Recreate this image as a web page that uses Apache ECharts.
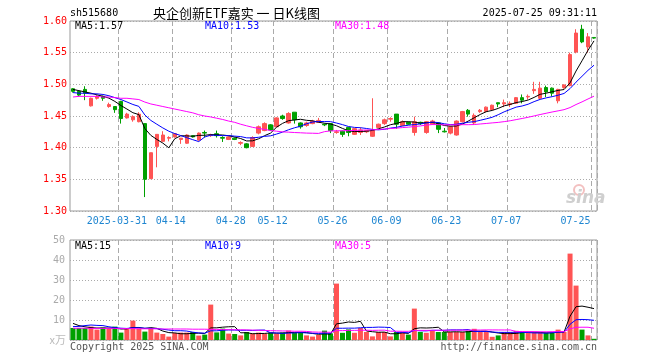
<!DOCTYPE html>
<html><head><meta charset="utf-8">
<script src="https://cdn.jsdelivr.net/npm/echarts@6/dist/echarts.min.js"></script>
<style>html,body{margin:0;padding:0;background:#fff}#c{width:660px;height:360px}</style>
</head><body><div id="c"></div>
<script>
const dates = ['2025-03-19','2025-03-20','2025-03-21','2025-03-24','2025-03-25','2025-03-26','2025-03-27','2025-03-28','2025-03-31','2025-04-01','2025-04-02','2025-04-03','2025-04-07','2025-04-08','2025-04-09','2025-04-10','2025-04-11','2025-04-14','2025-04-15','2025-04-16','2025-04-17','2025-04-18','2025-04-21','2025-04-22','2025-04-23','2025-04-24','2025-04-25','2025-04-28','2025-04-29','2025-04-30','2025-05-06','2025-05-07','2025-05-08','2025-05-09','2025-05-12','2025-05-13','2025-05-14','2025-05-15','2025-05-16','2025-05-19','2025-05-20','2025-05-21','2025-05-22','2025-05-23','2025-05-26','2025-05-27','2025-05-28','2025-05-29','2025-05-30','2025-06-03','2025-06-04','2025-06-05','2025-06-06','2025-06-09','2025-06-10','2025-06-11','2025-06-12','2025-06-13','2025-06-16','2025-06-17','2025-06-18','2025-06-19','2025-06-20','2025-06-23','2025-06-24','2025-06-25','2025-06-26','2025-06-27','2025-06-30','2025-07-01','2025-07-02','2025-07-03','2025-07-04','2025-07-07','2025-07-08','2025-07-09','2025-07-10','2025-07-11','2025-07-14','2025-07-15','2025-07-16','2025-07-17','2025-07-18','2025-07-21','2025-07-22','2025-07-23','2025-07-24','2025-07-25'];
const labelDates = ['2025-03-31','2025-04-14','2025-04-28','2025-05-12','2025-05-26','2025-06-09','2025-06-23','2025-07-07','2025-07-25'];

const open = [1.493,1.489,1.492,1.466,1.478,1.481,1.465,1.465,1.473,1.447,
1.444,1.441,1.438,1.351,1.402,1.410,1.415,1.417,1.413,1.407,
1.419,1.412,1.424,1.419,1.422,1.416,1.413,1.415,1.407,1.406,
1.402,1.423,1.427,1.436,1.433,1.450,1.439,1.456,1.439,1.435,
1.438,1.440,1.437,1.438,1.424,1.426,1.432,1.421,1.424,1.425,
1.418,1.432,1.438,1.445,1.453,1.435,1.440,1.424,1.440,1.424,
1.437,1.439,1.426,1.423,1.420,1.441,1.459,1.439,1.457,1.457,
1.460,1.471,1.469,1.468,1.470,1.479,1.480,1.490,1.478,1.495,
1.494,1.474,1.495,1.498,1.551,1.587,1.559,1.574];
const close = [1.489,1.483,1.486,1.478,1.481,1.478,1.468,1.460,1.446,1.453,
1.449,1.453,1.350,1.392,1.421,1.420,1.416,1.422,1.415,1.420,
1.417,1.423,1.423,1.420,1.419,1.415,1.417,1.413,1.408,1.400,
1.416,1.433,1.438,1.428,1.447,1.446,1.454,1.444,1.433,1.439,
1.442,1.443,1.436,1.427,1.425,1.421,1.424,1.430,1.428,1.427,
1.427,1.437,1.444,1.446,1.437,1.441,1.437,1.441,1.438,1.441,
1.442,1.429,1.425,1.433,1.442,1.457,1.453,1.451,1.459,1.464,
1.467,1.469,1.471,1.470,1.479,1.475,1.481,1.492,1.494,1.488,
1.486,1.492,1.499,1.547,1.581,1.567,1.575,1.573];
const low = [1.487,1.481,1.475,1.465,1.476,1.474,1.463,1.455,1.438,1.446,
1.441,1.440,1.322,1.351,1.369,1.410,1.410,1.416,1.406,1.406,
1.416,1.411,1.416,1.417,1.416,1.409,1.412,1.412,1.404,1.399,
1.401,1.421,1.426,1.427,1.432,1.444,1.438,1.438,1.430,1.433,
1.437,1.439,1.434,1.423,1.422,1.417,1.418,1.420,1.420,1.423,
1.417,1.431,1.436,1.441,1.430,1.434,1.436,1.419,1.436,1.422,
1.436,1.423,1.424,1.421,1.419,1.440,1.449,1.436,1.455,1.456,
1.459,1.464,1.464,1.464,1.469,1.470,1.476,1.485,1.476,1.480,
1.481,1.470,1.493,1.497,1.549,1.565,1.550,1.572];
const high = [1.494,1.490,1.497,1.479,1.483,1.482,1.471,1.465,1.474,1.455,
1.451,1.456,1.438,1.392,1.421,1.426,1.418,1.423,1.415,1.421,
1.420,1.424,1.427,1.422,1.427,1.418,1.418,1.416,1.410,1.407,
1.418,1.435,1.440,1.437,1.448,1.452,1.456,1.456,1.440,1.441,
1.444,1.447,1.438,1.438,1.428,1.427,1.432,1.431,1.432,1.428,
1.478,1.438,1.446,1.448,1.453,1.443,1.441,1.449,1.441,1.442,
1.444,1.440,1.431,1.434,1.443,1.458,1.461,1.454,1.461,1.465,
1.468,1.471,1.476,1.473,1.480,1.484,1.484,1.504,1.504,1.498,
1.495,1.493,1.500,1.550,1.587,1.594,1.581,1.574];

const ma5 = [1.492,1.490,1.488,1.486,1.4834,1.4812,1.4782,1.4730,1.4666,1.4610,
1.4552,1.4522,1.4302,1.4194,1.4130,1.4072,1.3998,1.4142,1.4188,1.4186,
1.4180,1.4194,1.4196,1.4206,1.4204,1.4200,1.4188,1.4168,1.4144,1.4106,
1.4108,1.4140,1.4190,1.4230,1.4324,1.4384,1.4426,1.4438,1.4448,1.4432,
1.4424,1.4402,1.4386,1.4374,1.4346,1.4304,1.4266,1.4254,1.4256,1.4260,
1.4272,1.4298,1.4326,1.4362,1.4382,1.4410,1.4410,1.4404,1.4388,1.4396,
1.4398,1.4382,1.4350,1.4340,1.4342,1.4372,1.4420,1.4472,1.4524,1.4568,
1.4588,1.4620,1.4660,1.4682,1.4712,1.4728,1.4752,1.4794,1.4842,1.4860,
1.4882,1.4904,1.4918,1.5024,1.5210,1.5372,1.5538,1.5686];
const ma10 = [1.487,1.486,1.486,1.485,1.485,1.484,1.482,1.479,1.476,1.4722,
1.4682,1.4652,1.4516,1.4430,1.4370,1.4312,1.4260,1.4222,1.4191,1.4158,
1.4126,1.4096,1.4169,1.4197,1.4195,1.4190,1.4191,1.4182,1.4175,1.4155,
1.4154,1.4164,1.4179,1.4187,1.4215,1.4246,1.4283,1.4314,1.4339,1.4378,
1.4404,1.4414,1.4412,1.4411,1.4389,1.4364,1.4334,1.4320,1.4315,1.4303,
1.4288,1.4282,1.4290,1.4309,1.4321,1.4341,1.4354,1.4365,1.4375,1.4389,
1.4404,1.4396,1.4377,1.4364,1.4369,1.4385,1.4401,1.4411,1.4432,1.4455,
1.4480,1.4520,1.4566,1.4603,1.4640,1.4658,1.4686,1.4727,1.4762,1.4786,
1.4805,1.4828,1.4856,1.4933,1.5035,1.5127,1.5221,1.5302];
const ma30 = [1.480,1.481,1.481,1.481,1.481,1.480,1.480,1.479,1.478,1.478,
1.477,1.476,1.472,1.469,1.467,1.465,1.463,1.461,1.459,1.457,
1.455,1.452,1.450,1.4485,1.4465,1.4445,1.442,1.440,1.437,1.4345,
1.4321,1.4304,1.4288,1.4271,1.4260,1.4249,1.4245,1.4239,1.4235,1.4230,
1.4228,1.4225,1.4253,1.4265,1.4266,1.4267,1.4269,1.4272,1.4276,1.4279,
1.4282,1.4287,1.4294,1.4302,1.4308,1.4317,1.4324,1.4333,1.4343,1.4357,
1.4365,1.4364,1.4360,1.4361,1.4360,1.4363,1.4363,1.4365,1.4374,1.4382,
1.4391,1.4399,1.4411,1.4425,1.4443,1.4461,1.4480,1.4501,1.4523,1.4543,
1.4563,1.4581,1.4600,1.4633,1.4681,1.4723,1.4769,1.4813];

const volume = [6.0,6.0,6.0,6.7,5.2,6.2,5.7,6.7,3.7,5.5,
9.7,5.7,4.2,5.8,3.7,3.0,1.7,3.5,3.7,3.7,
4.0,2.2,2.7,17.7,3.8,5.7,3.2,3.0,2.3,4.0,
3.2,3.7,3.2,3.7,3.2,3.7,4.7,3.7,4.0,2.3,
1.7,2.5,4.7,3.3,28.2,3.6,5.3,3.6,6.0,4.0,
1.8,4.0,4.0,1.8,4.0,4.0,2.7,15.7,4.0,3.6,
4.6,4.0,4.0,4.0,4.0,4.0,4.6,5.6,4.0,4.0,
1.6,2.3,4.0,4.0,4.6,3.6,3.6,3.6,3.6,3.6,
3.6,5.2,4.0,43.2,27.2,5.2,2.3,0.6];
const volMa5 = [8.3,7.2,6.6,6.2,5.98,6.02,5.96,6.10,5.50,5.56,
6.26,6.26,5.76,6.18,5.82,4.48,3.68,3.54,3.12,3.12,
3.32,3.42,3.26,6.06,6.08,6.42,6.62,6.68,3.60,3.64,
3.14,3.24,3.28,3.56,3.40,3.50,3.70,3.80,3.86,3.68,
3.28,2.84,3.04,2.90,8.08,8.46,9.02,8.80,9.34,4.50,
4.14,3.88,3.96,3.12,3.12,3.56,3.30,5.64,6.08,6.00,
6.12,6.38,4.04,4.04,4.12,4.00,4.12,4.44,4.44,4.44,
3.96,3.50,3.18,3.18,3.30,3.70,3.96,3.88,3.80,3.60,
3.60,3.92,4.00,11.92,16.64,16.96,16.38,15.70];
const volMa10 = [6.7,6.8,7.2,7.5,7.3,7.2,6.6,6.2,5.9,5.77,
6.14,6.11,5.93,5.84,5.69,5.37,4.97,4.65,4.65,4.47,
3.90,3.55,3.40,4.59,4.60,4.87,5.02,4.97,4.83,4.86,
4.78,4.93,4.98,3.58,3.52,3.32,3.47,3.54,3.71,3.54,
3.39,3.27,3.42,3.38,5.88,5.87,5.93,5.92,6.12,6.29,
6.30,6.45,6.38,6.23,3.81,3.85,3.59,4.80,4.60,4.56,
4.84,4.84,4.84,5.06,5.06,5.06,5.25,4.24,4.24,4.28,
3.98,3.81,3.81,3.81,3.87,3.83,3.73,3.53,3.49,3.45,
3.65,3.94,3.94,7.86,10.12,10.28,10.15,9.85];
const volMa30 = [5.9,5.9,5.9,5.8,5.8,5.8,5.8,5.8,5.7,5.7,
5.7,5.6,5.6,5.6,5.6,5.5,5.5,5.5,5.5,5.5,
5.4,5.4,5.4,5.3,5.3,5.2,5.2,5.1,5.1,5.03,
4.94,4.86,4.77,4.67,4.60,4.52,4.49,4.39,4.40,4.29,
4.02,3.92,3.93,3.85,4.67,4.69,4.81,4.81,4.89,4.90,
4.82,4.88,4.93,4.40,4.40,4.35,4.33,4.75,4.81,4.80,
4.84,4.85,4.88,4.89,4.92,4.93,4.92,4.99,4.99,5.04,
5.04,5.03,5.01,5.03,4.25,4.25,4.19,4.19,4.11,4.10,
4.16,4.20,4.20,5.58,6.35,6.39,6.38,5.87];

const priceMin = 1.30, priceMax = 1.60, priceStep = 0.05;
const volMin = 0, volMax = 50, volStep = 10;

const MONO = '"DejaVu Sans Mono", monospace';
const RED = '#ff5454', GREEN = '#00a000';
const labelIdx = new Set(labelDates.map(d => dates.indexOf(d)));
const lastIdx = dates.length - 1;
const showAt = (i) => labelIdx.has(i);

const candle = dates.map((d, i) => [open[i], close[i], low[i], high[i]]);
const volData = volume.map((v, i) => ({ value: v, itemStyle: { color: close[i] >= open[i] ? RED : GREEN } }));

const chart = echarts.init(document.getElementById('c'), null, { renderer: 'canvas' });

function txt(x, y, text, fill, align, font) {
  return { type: 'text', x: x, y: y, silent: true, z: 100,
    style: { text: text, fill: fill, font: font || ('10px ' + MONO), align: align || 'left', verticalAlign: 'middle',
             textAlign: align || 'left', textVerticalAlign: 'middle' } };
}

const splitV = { show: true, interval: (i) => showAt(i), lineStyle: { color: '#aaa', width: 1, type: [5, 3] } };

chart.setOption({
  animation: false,
  backgroundColor: '#fff',
  grid: [
    { left: 70, top: 21, width: 527, height: 190, show: true, borderColor: '#999', borderWidth: 1, backgroundColor: 'transparent' },
    { left: 70, top: 240, width: 527, height: 100, show: true, borderColor: '#999', borderWidth: 1, backgroundColor: 'transparent' }
  ],
  xAxis: [
    { type: 'category', gridIndex: 0, data: dates, boundaryGap: true,
      axisLine: { show: false }, axisTick: { show: false },
      axisLabel: { interval: (i) => showAt(i), margin: 5, fontFamily: MONO, fontSize: 10, color: '#1f86d1',
        formatter: (v, i) => {
          const t = (i === 8) ? v : v.slice(5);
          return i === lastIdx ? '{e|' + t + '}' : '{n|' + t + '}';
        },
        rich: {
          n: { padding: [0, 8, 0, 0], fontFamily: MONO, fontSize: 10, color: '#1f86d1' },
          e: { padding: [0, 37, 0, 0], fontFamily: MONO, fontSize: 10, color: '#1f86d1' }
        } },
      splitLine: splitV },
    { type: 'category', gridIndex: 1, data: dates, boundaryGap: true,
      axisLine: { show: false }, axisTick: { show: false }, axisLabel: { show: false },
      splitLine: splitV }
  ],
  yAxis: [
    { type: 'value', gridIndex: 0, min: priceMin, max: priceMax, interval: priceStep,
      axisLine: { show: false }, axisTick: { show: false },
      axisLabel: { color: '#ff0000', fontFamily: MONO, fontSize: 10, margin: 3, formatter: (v) => v.toFixed(2) },
      splitLine: { show: true, lineStyle: { color: '#aaa', width: 1, type: [1, 2] } } },
    { type: 'value', gridIndex: 1, min: volMin, max: volMax, interval: volStep,
      axisLine: { show: false }, axisTick: { show: false },
      axisLabel: { color: '#aaa', fontFamily: MONO, fontSize: 10, margin: 5, formatter: (v) => v === 0 ? '' : String(v) },
      splitLine: { show: true, lineStyle: { color: '#aaa', width: 1, type: [1, 2] } } }
  ],
  series: [
    { type: 'candlestick', xAxisIndex: 0, yAxisIndex: 0, data: candle, barWidth: 4,
      itemStyle: { color: RED, color0: GREEN, borderColor: RED, borderColor0: GREEN, borderWidth: 1 }, z: 2 },
    { type: 'line', xAxisIndex: 0, yAxisIndex: 0, data: ma5, symbol: 'none', lineStyle: { color: '#000', width: 1 }, z: 3 },
    { type: 'line', xAxisIndex: 0, yAxisIndex: 0, data: ma10, symbol: 'none', lineStyle: { color: '#0000ff', width: 1 }, z: 3 },
    { type: 'line', xAxisIndex: 0, yAxisIndex: 0, data: ma30, symbol: 'none', lineStyle: { color: '#ff00ff', width: 1 }, z: 3 },
    { type: 'bar', xAxisIndex: 1, yAxisIndex: 1, data: volData, barWidth: 5, z: 2 },
    { type: 'line', xAxisIndex: 1, yAxisIndex: 1, data: volMa5, symbol: 'none', lineStyle: { color: '#000', width: 1 }, z: 3 },
    { type: 'line', xAxisIndex: 1, yAxisIndex: 1, data: volMa10, symbol: 'none', lineStyle: { color: '#0000ff', width: 1 }, z: 3 },
    { type: 'line', xAxisIndex: 1, yAxisIndex: 1, data: volMa30, symbol: 'none', lineStyle: { color: '#ff00ff', width: 1 }, z: 3 }
  ],
  graphic: [
    txt(70, 13, 'sh515680', '#000'),
    txt(236.5, 13, '央企创新ETF嘉实 一 日K线图', '#000', 'center', '13px "Noto Sans CJK SC"'),
    txt(597, 13, '2025-07-25 09:31:11', '#000', 'right'),
    txt(75, 26, 'MA5:1.57', '#000'),
    txt(205, 26, 'MA10:1.53', '#0000ff'),
    txt(335, 26, 'MA30:1.48', '#ff00ff'),
    txt(75, 246, 'MA5:15', '#000'),
    txt(205, 246, 'MA10:9', '#0000ff'),
    txt(335, 246, 'MA30:5', '#ff00ff'),
    txt(66, 340, 'x万', '#bbb', 'right', '11px "Noto Sans CJK SC"'),
    txt(70, 347, 'Copyright 2025 SINA.COM', '#555'),
    txt(597, 347, 'http://finance.sina.com.cn', '#555', 'right'),
    { type: 'circle', silent: true, z: 1, shape: { cx: 579, cy: 190, r: 5 }, style: { fill: 'none', stroke: '#f3c0c0', lineWidth: 2 } },
    txt(566, 199, 'sina', '#cfcfcf', 'left', 'italic bold 17px "DejaVu Sans"')
  ]
});
</script>
</body></html>
